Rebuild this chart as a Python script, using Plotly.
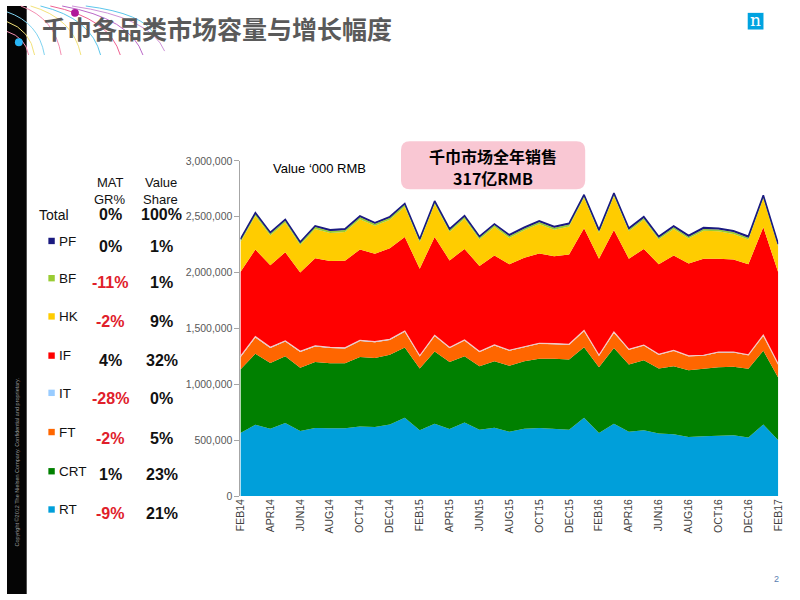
import plotly.graph_objects as go

# ---------------- data ('000 RMB) ----------------
months = ["FEB14", "MAR14", "APR14", "MAY14", "JUN14", "JUL14", "AUG14", "SEP14", "OCT14", "NOV14",
          "DEC14", "JAN15", "FEB15", "MAR15", "APR15", "MAY15", "JUN15", "JUL15", "AUG15", "SEP15",
          "OCT15", "NOV15", "DEC15", "JAN16", "FEB16", "MAR16", "APR16", "MAY16", "JUN16", "JUL16",
          "AUG16", "SEP16", "OCT16", "NOV16", "DEC16", "JAN17", "FEB17"]

RT = [565, 638, 603, 653, 582, 609, 606, 606, 621, 618, 641, 700, 588, 647, 600, 659, 594, 612, 574,
      603, 609, 603, 594, 700, 565, 647, 574, 588, 559, 553, 529, 535, 538, 544, 524, 641, 500]
CRT = [567, 636, 588, 597, 565, 591, 582, 582, 623, 617, 624, 629, 553, 647, 600, 591, 568, 594, 591,
       603, 620, 626, 627, 632, 588, 677, 602, 627, 582, 609, 597, 603, 615, 612, 614, 659, 559]
FT = [109, 144, 133, 132, 141, 138, 136, 133, 144, 141, 132, 142, 109, 138, 124, 141, 126, 141, 135,
      126, 133, 130, 132, 144, 103, 138, 133, 132, 124, 138, 124, 118, 132, 129, 121, 135, 117]
IT = [8, 8, 7, 7, 7, 7, 6, 6, 6, 6, 6, 6, 5, 6, 5, 5, 5, 5, 5,
      5, 5, 5, 5, 5, 4, 5, 4, 4, 4, 4, 4, 4, 4, 4, 4, 4, 4]
IF = [757, 780, 734, 793, 705, 784, 773, 779, 812, 786, 815, 841, 780, 880, 780, 816, 766, 801, 769,
      795, 804, 783, 804, 916, 864, 915, 811, 861, 805, 849, 828, 864, 835, 829, 811, 967, 820]
HK = [266, 301, 266, 266, 246, 261, 251, 257, 272, 251, 254, 272, 237, 295, 254, 269, 237, 254, 236,
      246, 263, 237, 251, 272, 230, 302, 245, 260, 222, 237, 222, 251, 245, 228, 222, 257, 228]
BF = [19, 19, 19, 19, 18, 19, 18, 18, 19, 18, 18, 19, 18, 19, 18, 18, 17, 18, 17,
      17, 18, 17, 17, 18, 16, 18, 16, 17, 16, 16, 16, 16, 16, 16, 16, 17, 16]
PF = [9, 9, 9, 9, 10, 9, 10, 10, 9, 10, 10, 9, 10, 9, 10, 10, 11, 10, 11,
      11, 10, 11, 11, 10, 12, 10, 12, 11, 12, 12, 12, 12, 12, 12, 12, 11, 12]

series_names = ["RT", "CRT", "FT", "IT", "IF", "HK", "BF", "PF"]
series_values = [RT, CRT, FT, IT, IF, HK, BF, PF]
series_colors = ["#009FDA", "#008000", "#FF6600", "#99CCFF", "#FF0000", "#FFCC00", "#99CC33", "#1A1A80"]

# table (top to bottom as displayed)
table_names = ["PF", "BF", "HK", "IF", "IT", "FT", "CRT", "RT"]
table_gr = ["0%", "-11%", "-2%", "4%", "-28%", "-2%", "1%", "-9%"]
table_share = ["1%", "1%", "9%", "32%", "0%", "5%", "23%", "21%"]
total_gr = "0%"
total_share = "100%"

y_ticks = [0, 500000, 1000000, 1500000, 2000000, 2500000, 3000000]

# ---------------- helpers ----------------
W, H = 800, 600


def px(x):
    return x / W


def py(y):
    return 1 - y / H


annotations = []
shapes = []


def ann(x, y, text, size, color="#000000", bold=False, xanchor="center",
        family="Liberation Sans, Arial, sans-serif", angle=0):
    if bold:
        text = "<b>" + text + "</b>"
    annotations.append(dict(x=px(x), y=py(y), xref="paper", yref="paper", text=text,
                            showarrow=False, xanchor=xanchor, yanchor="middle",
                            textangle=angle,
                            font=dict(size=size, color=color, family=family)))


def rect(x0, y0, x1, y1, fill, layer="below"):
    shapes.append(dict(type="rect", xref="paper", yref="paper", x0=px(x0), x1=px(x1),
                       y0=py(y1), y1=py(y0), fillcolor=fill,
                       line=dict(width=0), layer=layer))


# ---------------- figure ----------------
fig = go.Figure()
for name, vals, col in zip(series_names, series_values, series_colors):
    lw = 0
    lc = col
    if name == "PF":
        lw = 1.6
    if name == "IT":
        lw = 1.2
        lc = "#F6C9C4"
    fig.add_trace(go.Scatter(
        x=months, y=[v * 1000 for v in vals], name=name, mode="lines",
        stackgroup="one", fillcolor=col, line=dict(width=lw, color=lc),
        hoverinfo="skip"))

# left black strip
rect(0, 0, 20, 600, "#050505")

# decorative arcs top-left
arc_cols = ["#F48FB1", "#F3E27A", "#5CC6EC", "#F06292", "#BA68C8", "#7FD3F0", "#F3E27A", "#CE93D8",
            "#F48FB1", "#5CC6EC"]
arc_def = [(14, 0, 55, 50), (24, 0, 75, 50), (34, 0, 95, 50), (44, 0, 115, 50),
           (56, 0, 138, 50), (0, 6, 38, 50), (0, 16, 28, 50), (66, 0, 160, 46),
           (0, 26, 22, 50), (80, 0, 150, 30)]
for (x0, y0, x1, y1), c in zip(arc_def, arc_cols):
    cx, cy = x1 - (x1 - x0) * 0.15, y0 + (y1 - y0) * 0.25
    d = f"M {px(x0):.5f},{py(y0):.5f} Q {px(cx):.5f},{py(cy):.5f} {px(x1):.5f},{py(y1):.5f}"
    shapes.append(dict(type="path", xref="paper", yref="paper", path=d,
                       line=dict(color=c, width=1), layer="above"))
for (cx, cy, c) in [(12, 37, "#29B6F6"), (69, 7, "#B0189A")]:
    shapes.append(dict(type="circle", xref="paper", yref="paper",
                       x0=px(cx - 4), x1=px(cx + 4), y0=py(cy + 4), y1=py(cy - 4),
                       fillcolor=c, line=dict(width=0)))

# Nielsen logo
rect(752, 7, 768, 24, "#00A3E0")
ann(760, 14, "n", 17, "#FFFFFF", family="DejaVu Serif, serif")

# title
ann(33, 22, "<b>千巾各品类市场容量与增长幅度</b>", 25, "#5A5A5A", xanchor="left",
    family="Noto Sans CJK SC, sans-serif")

# copyright
ann(10, 465, "Copyright ©2012 The Nielsen Company. Confidential and proprietary.", 5.5,
    "#9A9A9A", angle=-90)

# page number
ann(781, 585, "2", 9, "#5B7DB1")

# pink box
x0, y0, x1, y1, r = 400, 138, 587, 187, 9
pts = (f"M {px(x0 + r):.5f},{py(y0):.5f} L {px(x1 - r):.5f},{py(y0):.5f} "
       f"Q {px(x1):.5f},{py(y0):.5f} {px(x1):.5f},{py(y0 + r):.5f} "
       f"L {px(x1):.5f},{py(y1 - r):.5f} Q {px(x1):.5f},{py(y1):.5f} {px(x1 - r):.5f},{py(y1):.5f} "
       f"L {px(x0 + r):.5f},{py(y1):.5f} Q {px(x0):.5f},{py(y1):.5f} {px(x0):.5f},{py(y1 - r):.5f} "
       f"L {px(x0):.5f},{py(y0 + r):.5f} Q {px(x0):.5f},{py(y0):.5f} {px(x0 + r):.5f},{py(y0):.5f} Z")
shapes.append(dict(type="path", xref="paper", yref="paper", path=pts,
                   fillcolor="#F9C7D3", line=dict(width=0), layer="below"))
ann(493, 153, "千巾市场全年销售", 16, "#000000", bold=True, family="Noto Sans CJK SC, sans-serif")
ann(493, 175, "317亿RMB", 16, "#000000", bold=True, family="Noto Sans CJK SC, sans-serif")

# value unit label
ann(268, 166, "Value ‘000 RMB", 13, "#000000", xanchor="left")

# table headers
ann(105, 180, "MAT", 13, "#111111")
ann(105, 197, "GR%", 13, "#111111")
ann(156, 180, "Value", 13, "#111111")
ann(156, 197, "Share", 13, "#111111")
ann(30, 213, "Total", 14, "#111111", xanchor="left")
ann(105, 213, total_gr, 16, "#111111", bold=True)
ann(157, 213, total_share, 16, "#111111", bold=True)

label_y = [240, 278, 317, 357, 395, 435, 475, 514]
value_y = [245, 282, 322, 362, 400, 441, 478, 518]
color_map = dict(zip(series_names, series_colors))
for nm, gr, sh, ly, vy in zip(table_names, table_gr, table_share, label_y, value_y):
    rect(42, ly - 3.5, 48.5, ly + 3, color_map[nm])
    ann(51, ly, nm, 13.5, "#111111", xanchor="left")
    gcol = "#E0202A" if gr.startswith("-") else "#111111"
    ann(105, vy, gr, 16, gcol, bold=True)
    ann(157, vy, sh, 16, "#111111", bold=True)

fig.update_layout(
    width=800, height=600, margin=dict(l=0, r=0, t=0, b=0),
    paper_bgcolor="#FFFFFF", plot_bgcolor="#FFFFFF", showlegend=False,
    xaxis=dict(domain=[237 / 800, 783 / 800], type="category", range=[0, 36],
               tickvals=months[::2], ticktext=months[::2], tickangle=-90,
               tickfont=dict(family="Liberation Sans, Arial, sans-serif", size=10.5, color="#404040"),
               showgrid=False, showline=False, ticks="", zeroline=False),
    yaxis=dict(domain=[100 / 600, 442 / 600], range=[0, 3000000], tickvals=y_ticks,
               tickformat=",", showline=True, linecolor="#A6A6A6", linewidth=1,
               ticks="outside", ticklen=5, tickcolor="#A6A6A6",
               tickfont=dict(family="Liberation Sans, Arial, sans-serif", size=10.5, color="#595959"),
               showgrid=False, zeroline=False),
    annotations=annotations, shapes=shapes,
)

fig.write_html(
    "out.html", config=dict(displayModeBar=False),
    post_script=(
        "document.documentElement.style.margin='0';document.documentElement.style.padding='0';"
        "document.body.style.margin='0';document.body.style.padding='0';"
        "document.documentElement.style.overflow='hidden';document.body.style.overflow='hidden';"
        "var gd=document.getElementById('{plot_id}');"
        "gd.style.position='fixed';gd.style.left='0px';gd.style.top='0px';"
    ))
